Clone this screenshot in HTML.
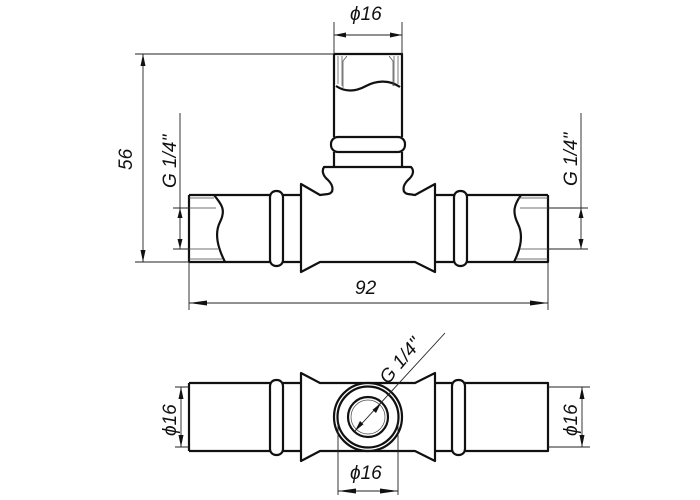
<!DOCTYPE html>
<html><head><meta charset="utf-8"><style>
html,body{margin:0;padding:0;background:#fff}
svg{display:block}
text{font-family:"Liberation Sans Narrow","Liberation Sans",sans-serif;font-style:italic;font-size:19px;fill:#111}
.o{fill:none;stroke:#111;stroke-width:2.2;stroke-linejoin:round}
.d{fill:none;stroke:#222;stroke-width:0.9}
.t{fill:none;stroke:#444;stroke-width:0.7}
.a{fill:#111;stroke:none}
</style></head><body>
<svg width="700" height="500" viewBox="0 0 700 500" xmlns="http://www.w3.org/2000/svg">
<!-- top branch -->
<path class="o" d="M334,54 H402 V137 M334,54 V137 M334,152 V167 M402,152 V167"/>
<rect class="o" x="331" y="137" width="74" height="15" rx="7"/>
<path class="o" d="M336,86 C345,92 355,92 366,86 C377,80 390,80 400,87"/>
<path class="t" d="M338,56 V84 M398,56 V84 M342,56 V86 M394,56 V86 M347,56 L343,61 V88 M389,56 L393,61 V86"/>
<!-- collar + body -->
<path class="o" d="M324,167 H411 C414,170 414,175 408,180 C402,186 402,193 408,194 L415,195 L435,184 V272 L415,262 H320 L301,272 V184 L320,195 L328,194 C334,193 334,186 328,180 C322,175 322,170 324,167 Z"/>
<!-- left pipe -->
<path class="o" d="M189,195 H270 M189,262 H270 M189,195 V262 M283,195 H301 M283,262 H301"/>
<rect class="o" x="270" y="191" width="13" height="75" rx="6"/>
<path class="o" d="M214,195 C222,205 226,210 220,222 C214,234 218,248 225,262"/>
<path class="t" d="M189,198 H214 M189,259 H222 M189,208 H216 M189,249 H218"/>
<!-- right pipe -->
<path class="o" d="M435,195 H455 M435,262 H455 M467,195 H548 M467,262 H548 V195"/>
<rect class="o" x="454" y="191" width="13" height="75" rx="6"/>
<path class="o" d="M521,195 C514,205 512,212 518,224 C524,236 520,250 514,262"/>
<path class="t" d="M518,198 H548 M516,259 H548 M520,208 H548 M520,249 H548"/>
<!-- dim φ16 top -->
<path class="d" d="M334,54 V22 M402,54 V22 M334,35 H402"/>
<path class="a" d="M334,35 l12,-2.5 v5 z M402,35 l-12,-2.5 v5 z"/>
<text x="350" y="20">ϕ16</text>
<!-- dim 56 -->
<path class="d" d="M135,54 H334 M135,262 H189 M143,54 V262"/>
<path class="a" d="M143,54 l-2.5,12 h5 z M143,262 l-2.5,-12 h5 z"/>
<text transform="translate(132,170) rotate(-90)">56</text>
<!-- G1/4 left -->
<path class="d" d="M173,208 H189 M173,249 H189 M180,113 V249"/>
<path class="a" d="M180,208 l-2.5,10 h5 z M180,249 l-2.5,-10 h5 z"/>
<text transform="translate(176,188) rotate(-90)">G 1/4"</text>
<!-- G1/4 right -->
<path class="d" d="M548,208 H588 M548,249 H588 M581,113 V249"/>
<path class="a" d="M581,208 l-2.5,10 h5 z M581,249 l-2.5,-10 h5 z"/>
<text transform="translate(577,186) rotate(-90)">G 1/4"</text>
<!-- dim 92 -->
<path class="d" d="M189,262 V310 M548,262 V310 M189,303 H548"/>
<path class="a" d="M189,303 l18,-2.5 v5 z M548,303 l-18,-2.5 v5 z"/>
<text x="355" y="294">92</text>

<!-- BOTTOM VIEW -->
<path class="o" d="M189,383 H270 M189,451 H270 M189,383 V451 M283,383 H301 M283,451 H301"/>
<rect class="o" x="270" y="380" width="13" height="75" rx="6"/>
<path class="o" d="M301,373 L320,383 H415 L435,373 V461 L415,451 H320 L301,461 Z"/>
<path class="o" d="M435,383 H453 M435,451 H453 M465,383 H548 V451 H465"/>
<rect class="o" x="452" y="380" width="13" height="75" rx="6"/>
<circle cx="368" cy="417" r="34" fill="#fff" stroke="#111" stroke-width="2.2"/>
<circle cx="368" cy="417" r="30.5" class="o" stroke-width="1.6"/>
<circle cx="368" cy="417" r="20" class="o" stroke-width="1.8"/>
<circle cx="368" cy="417" r="17" class="t"/>
<path class="d" d="M355,431 L445,333"/>
<path class="a" d="M355,431 l5,-10 l3.5,3.2 z M381,403 l-5,10 l-3.5,-3.2 z"/>
<text transform="translate(388,385) rotate(-50)">G 1/4"</text>
<path class="d" d="M175,387 H189 M175,447 H189 M181,387 V447"/>
<path class="a" d="M181,387 l-2.5,12 h5 z M181,447 l-2.5,-12 h5 z"/>
<text transform="translate(176,436) rotate(-90)">ϕ16</text>
<path class="d" d="M548,387 H590 M548,447 H590 M582,387 V447"/>
<path class="a" d="M582,387 l-2.5,12 h5 z M582,447 l-2.5,-12 h5 z"/>
<text transform="translate(577,436) rotate(-90)">ϕ16</text>
<path class="d" d="M338,420 V495 M398,420 V495 M338,491 H398"/>
<path class="a" d="M338,491 l18,-2.5 v5 z M398,491 l-18,-2.5 v5 z"/>
<text x="350" y="479">ϕ16</text>
</svg>
</body></html>
